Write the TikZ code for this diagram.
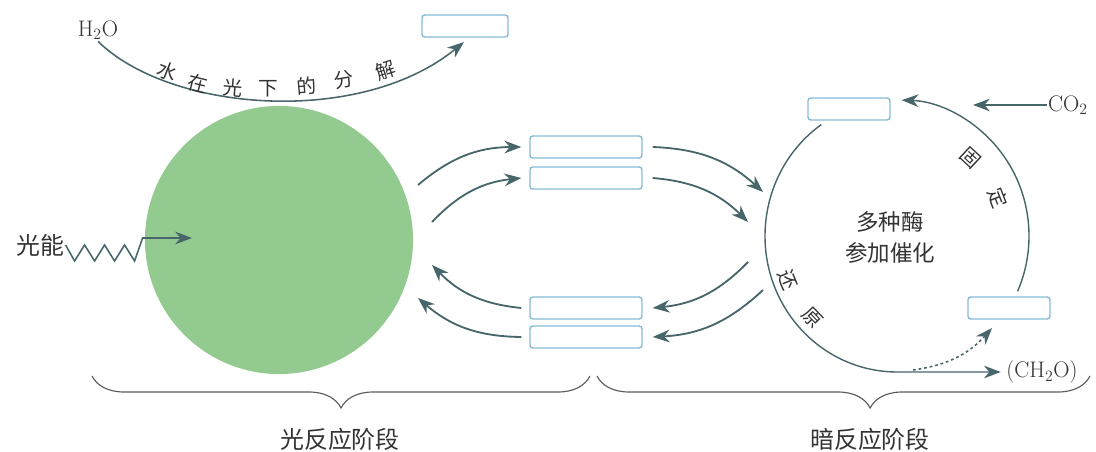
\documentclass[tikz,border=0pt]{standalone}
\usepackage{fontspec}
\newfontfamily\cjk{Noto Sans CJK SC}
\usepackage{tikz}
\usetikzlibrary{arrows.meta,decorations.pathreplacing,calc}
\definecolor{leafgreen}{HTML}{93CA8F}
\definecolor{flowteal}{HTML}{46666A}
\definecolor{boxblue}{HTML}{86BBD8}
\definecolor{ink}{HTML}{333333}
\definecolor{bracegray}{HTML}{5A5A5A}
\tikzset{
  blankbox/.style={rectangle, rounded corners=2pt, draw=boxblue, line width=1pt,
    fill=white, minimum width=#1, minimum height=0.55cm, inner sep=0pt},
  blankbox/.default=2.8cm,
  flow/.style={-{Stealth[length=12pt,width=9pt]}, line width=1.3pt, draw=flowteal},
  cjklabel/.style={font=\cjk\fontsize{#1}{#1}\selectfont, text=ink, inner sep=1pt},
  cjklabel/.default=17,
  chem/.style={font=\fontsize{16}{18}\selectfont, text=ink, inner sep=1pt},
  stagebrace/.style={decorate, decoration={brace, mirror, amplitude=0.8cm, aspect=#1},
    draw=bracegray, line width=0.8pt},
  stagebrace/.default=0.5,
}
\begin{document}
\begin{tikzpicture}[x=0.025cm, y=0.025cm]
\useasboundingbox (0,0) rectangle (1096,452);

% Light reactions
\node[circle, fill=leafgreen, minimum size=6.7cm, inner sep=0pt] (chloro) at (279,212) {};
\node[chem] (water) at (98,422) {H\textsubscript{2}O};
\node[blankbox=2.15cm] (oxy) at (465,426) {};
\coordinate (oxytip) at (464,410);
\draw[flow, line width=1.1pt] (water.south) .. controls (170,340) and (360,325) .. (oxytip);
\foreach \ch/\cx/\cy/\rot [count=\i] in {水/167/381/-22, 在/198/368/-14, 光/233/364/-5,
    下/268/363/0, 的/307/366/5, 分/344/372/10, 解/386/382/18}
  \node[cjklabel=14, rotate=\rot] (split\i) at (\cx,\cy) {\ch};

\node[cjklabel] (energy) at (40,207) {光能};
\coordinate (sunin) at (192,214);
\draw[flow, line width=1.1pt] (energy.east) -- ++(9,-16) -- ++(10,16) -- ++(10,-16) -- ++(10,16)
  -- ++(10,-16) -- ++(10,16) -- ++(10,-16) -- ++(8,23) -- (sunin);

% Carriers between the stages
\node[blankbox] (atp) at (586,305) {};
\node[blankbox] (nadph) at (586,274) {};
\node[blankbox] (adp) at (586,144) {};
\node[blankbox] (nadp) at (586,115) {};
\coordinate (gout1) at (418,267);
\coordinate (gout2) at (432,230);
\coordinate (gin1) at (432,187);
\coordinate (gin2) at (418,154);
\coordinate (cin1) at (763,260);
\coordinate (cin2) at (748,230);
\coordinate (cout1) at (748,190);
\coordinate (cout2) at (763,162);
\draw[flow] (gout1) to[bend left=20] ([xshift=-0.2cm]atp.west);
\draw[flow] (gout2) to[bend left=20] ([xshift=-0.2cm]nadph.west);
\draw[flow] ([xshift=0.25cm]atp.east) to[bend left=20] (cin1);
\draw[flow] ([xshift=0.25cm]nadph.east) to[bend left=20] (cin2);
\draw[flow] (cout1) to[bend left=20] ([xshift=0.25cm]adp.east);
\draw[flow] (cout2) to[bend left=20] ([xshift=0.25cm]nadp.east);
\draw[flow] ([xshift=-0.2cm]adp.west) to[bend left=20] (gin1);
\draw[flow] ([xshift=-0.2cm]nadp.west) to[bend left=20] (gin2);

% Dark reactions
\coordinate (ccenter) at (897,216);
\node[font=\cjk\fontsize{16}{22}\selectfont, text=ink, align=center] (enzyme) at (890,215) {多种酶\\参加催化};
\node[blankbox=2.05cm] (cthree) at (849,343) {};
\node[blankbox=2.05cm] (cfive) at (1009,144) {};
\node[chem] (sugar) at (1042,80) {(CH\textsubscript{2}O)};
\node[chem] (co2) at (1068,347) {CO\textsubscript{2}};
\coordinate (redstart) at ($(ccenter)+(125:132 and 136)$);
\coordinate (fixstart) at ($(ccenter)+(-24:132 and 136)$);
\draw[flow, line width=1pt] (redstart) arc[start angle=125, end angle=270, x radius=132, y radius=136]
  -- ([xshift=-0.1cm]sugar.west);
\draw[flow, line width=1pt] (fixstart) arc[start angle=-24, end angle=88, x radius=132, y radius=136];
\coordinate (fixin) at (973,347);
\draw[flow, line width=1.1pt] (co2.west) -- (fixin);
\coordinate (regenout) at (913,82);
\coordinate (regen) at (992,124);
\draw[flow, line width=1.1pt, dash pattern=on 2pt off 2pt] (regenout) to[bend right=20] (regen);
\node[cjklabel=14, rotate=-43] (fix1) at (970,294) {固};
\node[cjklabel=14, rotate=-69] (fix2) at (998,254) {定};
\node[cjklabel=14, rotate=-68] (red1) at (788,172) {还};
\node[cjklabel=14, rotate=-46] (red2) at (812,134) {原};

% Stage braces
\coordinate (lightL) at (92,76);
\coordinate (lightR) at (590,76);
\coordinate (darkL) at (597,76);
\coordinate (darkR) at (1090,76);
\draw[stagebrace] (lightL) -- (lightR);
\draw[stagebrace=0.554] (darkL) -- (darkR);
\node[cjklabel] (lightstage) at (340,13) {光反应阶段};
\node[cjklabel] (darkstage) at (870,13) {暗反应阶段};
\end{tikzpicture}
\end{document}
